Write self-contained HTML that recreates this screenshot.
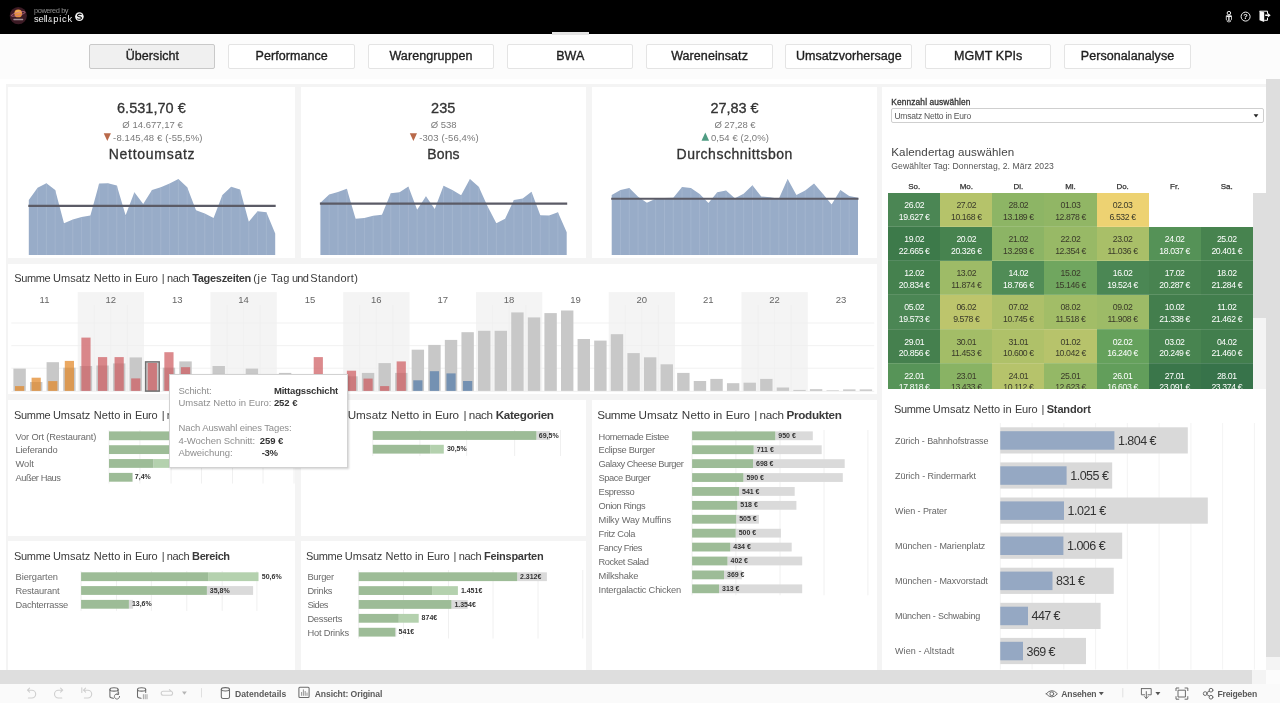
<!DOCTYPE html>
<html lang="de"><head><meta charset="utf-8"><title>Übersicht – sell&amp;pick Dashboard</title>
<style>
html,body{margin:0;padding:0}
body{width:1280px;height:703px;overflow:hidden;background:#fff;position:relative;font-family:"Liberation Sans",sans-serif;}
.t{position:absolute;white-space:pre;line-height:1;font-family:"Liberation Sans",sans-serif;}
svg.ov{position:absolute;left:0;top:0;}
.layer{position:absolute;left:0;top:0;width:1280px;height:703px;will-change:transform;}
</style></head><body>
<div style="position:absolute;left:0px;top:0px;width:1280px;height:34px;background:#000;"></div>
<div style="position:absolute;left:0px;top:34px;width:1280px;height:45px;background:#fcfcfc;"></div>
<div style="position:absolute;left:552px;top:32px;width:37px;height:3px;background:#e3e3e3;"></div>
<div style="position:absolute;left:88.9px;top:44px;width:124.5px;height:23.4px;background:#f0f0f0;border:1px solid #c9c9c9;border-radius:2px;"></div>
<div style="position:absolute;left:228.2px;top:44px;width:124.5px;height:23.4px;background:#fff;border:1px solid #e4e4e4;border-radius:2px;"></div>
<div style="position:absolute;left:367.5px;top:44px;width:124.5px;height:23.4px;background:#fff;border:1px solid #e4e4e4;border-radius:2px;"></div>
<div style="position:absolute;left:506.8px;top:44px;width:124.5px;height:23.4px;background:#fff;border:1px solid #e4e4e4;border-radius:2px;"></div>
<div style="position:absolute;left:646.1px;top:44px;width:124.5px;height:23.4px;background:#fff;border:1px solid #e4e4e4;border-radius:2px;"></div>
<div style="position:absolute;left:785.4px;top:44px;width:124.5px;height:23.4px;background:#fff;border:1px solid #e4e4e4;border-radius:2px;"></div>
<div style="position:absolute;left:924.7px;top:44px;width:124.5px;height:23.4px;background:#fff;border:1px solid #e4e4e4;border-radius:2px;"></div>
<div style="position:absolute;left:1064.0px;top:44px;width:124.5px;height:23.4px;background:#fff;border:1px solid #e4e4e4;border-radius:2px;"></div>
<div style="position:absolute;left:6px;top:84px;width:1260px;height:586px;background:#f4f4f4;"></div>
<div style="position:absolute;left:8.4px;top:87px;width:286.6px;height:171px;background:#fff;"></div>
<div style="position:absolute;left:300.5px;top:87px;width:285.5px;height:171px;background:#fff;"></div>
<div style="position:absolute;left:591.5px;top:87px;width:285.5px;height:171px;background:#fff;"></div>
<div style="position:absolute;left:8.4px;top:264px;width:868.6px;height:130px;background:#fff;"></div>
<div style="position:absolute;left:8.4px;top:399.5px;width:286.6px;height:136px;background:#fff;"></div>
<div style="position:absolute;left:300.5px;top:399.5px;width:285.5px;height:136px;background:#fff;"></div>
<div style="position:absolute;left:591.5px;top:399.5px;width:285.5px;height:270.5px;background:#fff;"></div>
<div style="position:absolute;left:8.4px;top:540.5px;width:286.6px;height:129.5px;background:#fff;"></div>
<div style="position:absolute;left:300.5px;top:540.5px;width:285.5px;height:129.5px;background:#fff;"></div>
<div style="position:absolute;left:882px;top:87px;width:384px;height:583px;background:#fff;"></div>
<div style="position:absolute;left:1266px;top:79px;width:14px;height:577.5px;background:#dedede;"></div>
<div style="position:absolute;left:1266px;top:656.5px;width:14px;height:13.5px;background:#f4f4f4;"></div>
<div style="position:absolute;left:0px;top:670px;width:1252px;height:14px;background:#dedede;"></div>
<div style="position:absolute;left:1252px;top:670px;width:14px;height:14px;background:#f4f4f4;"></div>
<div style="position:absolute;left:1266px;top:670px;width:14px;height:14px;background:#fcfcfc;"></div>
<div style="position:absolute;left:0px;top:684px;width:1280px;height:19px;background:#fafafa;"></div>
<div style="position:absolute;left:891px;top:108.2px;width:370.6px;height:12.6px;background:#fff;border:1px solid #cfcfcf;border-radius:2px;"></div>
<div style="position:absolute;left:1252.9px;top:192.9px;width:13.1px;height:125px;background:#dedede;"></div>
<div style="position:absolute;left:1252.9px;top:317.9px;width:13.1px;height:70.8px;background:#f4f4f4;"></div>
<svg class="ov" width="1280" height="703" viewBox="0 0 1280 703">
<path d="M28.80,254.90 L28.80,199.90 L37.60,187.67 L46.40,183.14 L55.20,189.94 L64.00,223.24 L72.80,219.61 L81.60,216.90 L90.40,215.54 L99.20,183.59 L108.00,183.14 L116.80,185.41 L125.60,215.31 L134.40,192.20 L143.20,203.98 L152.00,189.94 L160.80,187.22 L169.60,183.59 L178.40,179.06 L187.20,187.22 L196.00,210.33 L204.80,213.50 L213.60,218.03 L222.40,194.92 L231.20,186.76 L240.00,189.48 L248.80,221.65 L257.60,211.23 L266.40,212.14 L275.20,233.43 L275.20,254.90 Z" fill="#98acc8"/>
<line x1="37.60" y1="188.17" x2="37.60" y2="254.90" stroke="#a9bad2" stroke-width="0.6" />
<line x1="46.40" y1="183.64" x2="46.40" y2="254.90" stroke="#a9bad2" stroke-width="0.6" />
<line x1="55.20" y1="190.44" x2="55.20" y2="254.90" stroke="#a9bad2" stroke-width="0.6" />
<line x1="64.00" y1="223.74" x2="64.00" y2="254.90" stroke="#a9bad2" stroke-width="0.6" />
<line x1="72.80" y1="220.11" x2="72.80" y2="254.90" stroke="#a9bad2" stroke-width="0.6" />
<line x1="81.60" y1="217.40" x2="81.60" y2="254.90" stroke="#a9bad2" stroke-width="0.6" />
<line x1="90.40" y1="216.04" x2="90.40" y2="254.90" stroke="#a9bad2" stroke-width="0.6" />
<line x1="99.20" y1="184.09" x2="99.20" y2="254.90" stroke="#a9bad2" stroke-width="0.6" />
<line x1="108.00" y1="183.64" x2="108.00" y2="254.90" stroke="#a9bad2" stroke-width="0.6" />
<line x1="116.80" y1="185.91" x2="116.80" y2="254.90" stroke="#a9bad2" stroke-width="0.6" />
<line x1="125.60" y1="215.81" x2="125.60" y2="254.90" stroke="#a9bad2" stroke-width="0.6" />
<line x1="134.40" y1="192.70" x2="134.40" y2="254.90" stroke="#a9bad2" stroke-width="0.6" />
<line x1="143.20" y1="204.48" x2="143.20" y2="254.90" stroke="#a9bad2" stroke-width="0.6" />
<line x1="152.00" y1="190.44" x2="152.00" y2="254.90" stroke="#a9bad2" stroke-width="0.6" />
<line x1="160.80" y1="187.72" x2="160.80" y2="254.90" stroke="#a9bad2" stroke-width="0.6" />
<line x1="169.60" y1="184.09" x2="169.60" y2="254.90" stroke="#a9bad2" stroke-width="0.6" />
<line x1="178.40" y1="179.56" x2="178.40" y2="254.90" stroke="#a9bad2" stroke-width="0.6" />
<line x1="187.20" y1="187.72" x2="187.20" y2="254.90" stroke="#a9bad2" stroke-width="0.6" />
<line x1="196.00" y1="210.83" x2="196.00" y2="254.90" stroke="#a9bad2" stroke-width="0.6" />
<line x1="204.80" y1="214.00" x2="204.80" y2="254.90" stroke="#a9bad2" stroke-width="0.6" />
<line x1="213.60" y1="218.53" x2="213.60" y2="254.90" stroke="#a9bad2" stroke-width="0.6" />
<line x1="222.40" y1="195.42" x2="222.40" y2="254.90" stroke="#a9bad2" stroke-width="0.6" />
<line x1="231.20" y1="187.26" x2="231.20" y2="254.90" stroke="#a9bad2" stroke-width="0.6" />
<line x1="240.00" y1="189.98" x2="240.00" y2="254.90" stroke="#a9bad2" stroke-width="0.6" />
<line x1="248.80" y1="222.15" x2="248.80" y2="254.90" stroke="#a9bad2" stroke-width="0.6" />
<line x1="257.60" y1="211.73" x2="257.60" y2="254.90" stroke="#a9bad2" stroke-width="0.6" />
<line x1="266.40" y1="212.64" x2="266.40" y2="254.90" stroke="#a9bad2" stroke-width="0.6" />
<line x1="28.30" y1="205.80" x2="275.70" y2="205.80" stroke="#5b5b66" stroke-width="2.2" />
<path d="M320.40,254.90 L320.40,202.85 L329.20,194.47 L337.99,191.98 L346.79,188.80 L355.59,218.71 L364.38,218.03 L373.18,215.76 L381.98,214.86 L390.77,193.33 L399.57,192.20 L408.36,186.54 L417.16,209.65 L425.96,196.28 L434.75,208.97 L443.55,185.86 L452.35,189.94 L461.14,195.37 L469.94,179.06 L478.74,186.76 L487.53,206.25 L496.33,223.24 L505.12,218.71 L513.92,199.90 L522.72,198.55 L531.51,191.75 L540.31,215.31 L549.11,215.54 L557.90,212.14 L566.70,232.30 L566.70,254.90 Z" fill="#98acc8"/>
<line x1="329.20" y1="194.97" x2="329.20" y2="254.90" stroke="#a9bad2" stroke-width="0.6" />
<line x1="337.99" y1="192.48" x2="337.99" y2="254.90" stroke="#a9bad2" stroke-width="0.6" />
<line x1="346.79" y1="189.30" x2="346.79" y2="254.90" stroke="#a9bad2" stroke-width="0.6" />
<line x1="355.59" y1="219.21" x2="355.59" y2="254.90" stroke="#a9bad2" stroke-width="0.6" />
<line x1="364.38" y1="218.53" x2="364.38" y2="254.90" stroke="#a9bad2" stroke-width="0.6" />
<line x1="373.18" y1="216.26" x2="373.18" y2="254.90" stroke="#a9bad2" stroke-width="0.6" />
<line x1="381.98" y1="215.36" x2="381.98" y2="254.90" stroke="#a9bad2" stroke-width="0.6" />
<line x1="390.77" y1="193.83" x2="390.77" y2="254.90" stroke="#a9bad2" stroke-width="0.6" />
<line x1="399.57" y1="192.70" x2="399.57" y2="254.90" stroke="#a9bad2" stroke-width="0.6" />
<line x1="408.36" y1="187.04" x2="408.36" y2="254.90" stroke="#a9bad2" stroke-width="0.6" />
<line x1="417.16" y1="210.15" x2="417.16" y2="254.90" stroke="#a9bad2" stroke-width="0.6" />
<line x1="425.96" y1="196.78" x2="425.96" y2="254.90" stroke="#a9bad2" stroke-width="0.6" />
<line x1="434.75" y1="209.47" x2="434.75" y2="254.90" stroke="#a9bad2" stroke-width="0.6" />
<line x1="443.55" y1="186.36" x2="443.55" y2="254.90" stroke="#a9bad2" stroke-width="0.6" />
<line x1="452.35" y1="190.44" x2="452.35" y2="254.90" stroke="#a9bad2" stroke-width="0.6" />
<line x1="461.14" y1="195.87" x2="461.14" y2="254.90" stroke="#a9bad2" stroke-width="0.6" />
<line x1="469.94" y1="179.56" x2="469.94" y2="254.90" stroke="#a9bad2" stroke-width="0.6" />
<line x1="478.74" y1="187.26" x2="478.74" y2="254.90" stroke="#a9bad2" stroke-width="0.6" />
<line x1="487.53" y1="206.75" x2="487.53" y2="254.90" stroke="#a9bad2" stroke-width="0.6" />
<line x1="496.33" y1="223.74" x2="496.33" y2="254.90" stroke="#a9bad2" stroke-width="0.6" />
<line x1="505.12" y1="219.21" x2="505.12" y2="254.90" stroke="#a9bad2" stroke-width="0.6" />
<line x1="513.92" y1="200.40" x2="513.92" y2="254.90" stroke="#a9bad2" stroke-width="0.6" />
<line x1="522.72" y1="199.05" x2="522.72" y2="254.90" stroke="#a9bad2" stroke-width="0.6" />
<line x1="531.51" y1="192.25" x2="531.51" y2="254.90" stroke="#a9bad2" stroke-width="0.6" />
<line x1="540.31" y1="215.81" x2="540.31" y2="254.90" stroke="#a9bad2" stroke-width="0.6" />
<line x1="549.11" y1="216.04" x2="549.11" y2="254.90" stroke="#a9bad2" stroke-width="0.6" />
<line x1="557.90" y1="212.64" x2="557.90" y2="254.90" stroke="#a9bad2" stroke-width="0.6" />
<line x1="319.90" y1="203.53" x2="567.20" y2="203.53" stroke="#5b5b66" stroke-width="2.2" />
<path d="M611.70,254.90 L611.70,194.92 L620.50,189.94 L629.29,188.12 L638.09,196.73 L646.89,202.85 L655.68,198.77 L664.48,198.09 L673.27,197.64 L682.07,186.99 L690.87,188.12 L699.66,194.01 L708.46,203.08 L717.26,192.20 L726.05,190.39 L734.85,198.32 L743.65,193.79 L752.44,185.18 L761.24,196.51 L770.04,197.19 L778.83,198.77 L787.63,179.06 L796.42,194.92 L805.22,190.39 L814.02,183.59 L822.81,193.79 L831.61,204.44 L840.41,189.94 L849.20,196.05 L858.00,197.64 L858.00,254.90 Z" fill="#98acc8"/>
<line x1="620.50" y1="190.44" x2="620.50" y2="254.90" stroke="#a9bad2" stroke-width="0.6" />
<line x1="629.29" y1="188.62" x2="629.29" y2="254.90" stroke="#a9bad2" stroke-width="0.6" />
<line x1="638.09" y1="197.23" x2="638.09" y2="254.90" stroke="#a9bad2" stroke-width="0.6" />
<line x1="646.89" y1="203.35" x2="646.89" y2="254.90" stroke="#a9bad2" stroke-width="0.6" />
<line x1="655.68" y1="199.27" x2="655.68" y2="254.90" stroke="#a9bad2" stroke-width="0.6" />
<line x1="664.48" y1="198.59" x2="664.48" y2="254.90" stroke="#a9bad2" stroke-width="0.6" />
<line x1="673.27" y1="198.14" x2="673.27" y2="254.90" stroke="#a9bad2" stroke-width="0.6" />
<line x1="682.07" y1="187.49" x2="682.07" y2="254.90" stroke="#a9bad2" stroke-width="0.6" />
<line x1="690.87" y1="188.62" x2="690.87" y2="254.90" stroke="#a9bad2" stroke-width="0.6" />
<line x1="699.66" y1="194.51" x2="699.66" y2="254.90" stroke="#a9bad2" stroke-width="0.6" />
<line x1="708.46" y1="203.58" x2="708.46" y2="254.90" stroke="#a9bad2" stroke-width="0.6" />
<line x1="717.26" y1="192.70" x2="717.26" y2="254.90" stroke="#a9bad2" stroke-width="0.6" />
<line x1="726.05" y1="190.89" x2="726.05" y2="254.90" stroke="#a9bad2" stroke-width="0.6" />
<line x1="734.85" y1="198.82" x2="734.85" y2="254.90" stroke="#a9bad2" stroke-width="0.6" />
<line x1="743.65" y1="194.29" x2="743.65" y2="254.90" stroke="#a9bad2" stroke-width="0.6" />
<line x1="752.44" y1="185.68" x2="752.44" y2="254.90" stroke="#a9bad2" stroke-width="0.6" />
<line x1="761.24" y1="197.01" x2="761.24" y2="254.90" stroke="#a9bad2" stroke-width="0.6" />
<line x1="770.04" y1="197.69" x2="770.04" y2="254.90" stroke="#a9bad2" stroke-width="0.6" />
<line x1="778.83" y1="199.27" x2="778.83" y2="254.90" stroke="#a9bad2" stroke-width="0.6" />
<line x1="787.63" y1="179.56" x2="787.63" y2="254.90" stroke="#a9bad2" stroke-width="0.6" />
<line x1="796.42" y1="195.42" x2="796.42" y2="254.90" stroke="#a9bad2" stroke-width="0.6" />
<line x1="805.22" y1="190.89" x2="805.22" y2="254.90" stroke="#a9bad2" stroke-width="0.6" />
<line x1="814.02" y1="184.09" x2="814.02" y2="254.90" stroke="#a9bad2" stroke-width="0.6" />
<line x1="822.81" y1="194.29" x2="822.81" y2="254.90" stroke="#a9bad2" stroke-width="0.6" />
<line x1="831.61" y1="204.94" x2="831.61" y2="254.90" stroke="#a9bad2" stroke-width="0.6" />
<line x1="840.41" y1="190.44" x2="840.41" y2="254.90" stroke="#a9bad2" stroke-width="0.6" />
<line x1="849.20" y1="196.55" x2="849.20" y2="254.90" stroke="#a9bad2" stroke-width="0.6" />
<line x1="611.20" y1="198.77" x2="858.50" y2="198.77" stroke="#5b5b66" stroke-width="2.2" />
<path d="M103.72,133.2 l7.2,0 l-3.6,7.8 Z" fill="#b9694a"/>
<path d="M409.80,133.2 l7.2,0 l-3.6,7.8 Z" fill="#b9694a"/>
<path d="M701.50,140.8 l7.6,0 l-3.8,-8.4 Z" fill="#4f9c83"/>
<rect x="77.68" y="292.10" width="66.38" height="99.10" fill="#f4f4f4" />
<line x1="94.27" y1="305.00" x2="94.27" y2="390.90" stroke="#efefef" stroke-width="0.8" />
<line x1="110.86" y1="305.00" x2="110.86" y2="390.90" stroke="#efefef" stroke-width="0.8" />
<line x1="127.46" y1="305.00" x2="127.46" y2="390.90" stroke="#efefef" stroke-width="0.8" />
<rect x="210.43" y="292.10" width="66.38" height="99.10" fill="#f4f4f4" />
<line x1="227.02" y1="305.00" x2="227.02" y2="390.90" stroke="#efefef" stroke-width="0.8" />
<line x1="243.62" y1="305.00" x2="243.62" y2="390.90" stroke="#efefef" stroke-width="0.8" />
<line x1="260.21" y1="305.00" x2="260.21" y2="390.90" stroke="#efefef" stroke-width="0.8" />
<rect x="343.18" y="292.10" width="66.38" height="99.10" fill="#f4f4f4" />
<line x1="359.77" y1="305.00" x2="359.77" y2="390.90" stroke="#efefef" stroke-width="0.8" />
<line x1="376.37" y1="305.00" x2="376.37" y2="390.90" stroke="#efefef" stroke-width="0.8" />
<line x1="392.96" y1="305.00" x2="392.96" y2="390.90" stroke="#efefef" stroke-width="0.8" />
<rect x="475.93" y="292.10" width="66.38" height="99.10" fill="#f4f4f4" />
<line x1="492.53" y1="305.00" x2="492.53" y2="390.90" stroke="#efefef" stroke-width="0.8" />
<line x1="509.12" y1="305.00" x2="509.12" y2="390.90" stroke="#efefef" stroke-width="0.8" />
<line x1="525.71" y1="305.00" x2="525.71" y2="390.90" stroke="#efefef" stroke-width="0.8" />
<rect x="608.68" y="292.10" width="66.38" height="99.10" fill="#f4f4f4" />
<line x1="625.28" y1="305.00" x2="625.28" y2="390.90" stroke="#efefef" stroke-width="0.8" />
<line x1="641.87" y1="305.00" x2="641.87" y2="390.90" stroke="#efefef" stroke-width="0.8" />
<line x1="658.47" y1="305.00" x2="658.47" y2="390.90" stroke="#efefef" stroke-width="0.8" />
<rect x="741.44" y="292.10" width="66.38" height="99.10" fill="#f4f4f4" />
<line x1="758.03" y1="305.00" x2="758.03" y2="390.90" stroke="#efefef" stroke-width="0.8" />
<line x1="774.62" y1="305.00" x2="774.62" y2="390.90" stroke="#efefef" stroke-width="0.8" />
<line x1="791.22" y1="305.00" x2="791.22" y2="390.90" stroke="#efefef" stroke-width="0.8" />
<line x1="11.30" y1="323.00" x2="874.20" y2="323.00" stroke="#efefef" stroke-width="0.9" />
<line x1="11.30" y1="345.70" x2="874.20" y2="345.70" stroke="#efefef" stroke-width="0.9" />
<line x1="11.30" y1="368.20" x2="874.20" y2="368.20" stroke="#efefef" stroke-width="0.9" />
<line x1="11.30" y1="391.30" x2="874.20" y2="391.30" stroke="#f0f0f0" stroke-width="1" />
<rect x="13.40" y="368.60" width="12.40" height="22.30" fill="#c8c8c8" />
<rect x="29.99" y="382.00" width="12.40" height="8.90" fill="#c8c8c8" />
<rect x="46.58" y="362.20" width="12.40" height="28.70" fill="#c8c8c8" />
<rect x="63.18" y="367.70" width="12.40" height="23.20" fill="#c8c8c8" />
<rect x="79.77" y="366.00" width="12.40" height="24.90" fill="#c8c8c8" />
<rect x="96.37" y="365.50" width="12.40" height="25.40" fill="#c8c8c8" />
<rect x="112.96" y="363.40" width="12.40" height="27.50" fill="#c8c8c8" />
<rect x="129.56" y="357.40" width="12.40" height="33.50" fill="#c8c8c8" />
<rect x="146.15" y="362.60" width="12.40" height="28.30" fill="#c8c8c8" />
<rect x="162.74" y="367.70" width="12.40" height="23.20" fill="#c8c8c8" />
<rect x="179.34" y="361.40" width="12.40" height="29.50" fill="#c8c8c8" />
<rect x="195.93" y="378.90" width="12.40" height="12.00" fill="#c8c8c8" />
<rect x="212.53" y="366.00" width="12.40" height="24.90" fill="#c8c8c8" />
<rect x="229.12" y="384.90" width="12.40" height="6.00" fill="#c8c8c8" />
<rect x="245.71" y="368.60" width="12.40" height="22.30" fill="#c8c8c8" />
<rect x="262.31" y="385.90" width="12.40" height="5.00" fill="#c8c8c8" />
<rect x="278.90" y="372.90" width="12.40" height="18.00" fill="#c8c8c8" />
<rect x="295.50" y="386.90" width="12.40" height="4.00" fill="#c8c8c8" />
<rect x="312.09" y="380.90" width="12.40" height="10.00" fill="#c8c8c8" />
<rect x="328.68" y="382.90" width="12.40" height="8.00" fill="#c8c8c8" />
<rect x="345.28" y="376.30" width="12.40" height="14.60" fill="#c8c8c8" />
<rect x="361.87" y="372.90" width="12.40" height="18.00" fill="#c8c8c8" />
<rect x="378.47" y="363.10" width="12.40" height="27.80" fill="#c8c8c8" />
<rect x="395.06" y="372.90" width="12.40" height="18.00" fill="#c8c8c8" />
<rect x="411.65" y="349.70" width="12.40" height="41.20" fill="#c8c8c8" />
<rect x="428.25" y="344.90" width="12.40" height="46.00" fill="#c8c8c8" />
<rect x="444.84" y="339.90" width="12.40" height="51.00" fill="#c8c8c8" />
<rect x="461.44" y="332.20" width="12.40" height="58.70" fill="#c8c8c8" />
<rect x="478.03" y="330.80" width="12.40" height="60.10" fill="#c8c8c8" />
<rect x="494.62" y="330.80" width="12.40" height="60.10" fill="#c8c8c8" />
<rect x="511.22" y="312.40" width="12.40" height="78.50" fill="#c8c8c8" />
<rect x="527.81" y="317.40" width="12.40" height="73.50" fill="#c8c8c8" />
<rect x="544.40" y="313.10" width="12.40" height="77.80" fill="#c8c8c8" />
<rect x="561.00" y="310.50" width="12.40" height="80.40" fill="#c8c8c8" />
<rect x="577.59" y="339.00" width="12.40" height="51.90" fill="#c8c8c8" />
<rect x="594.19" y="340.60" width="12.40" height="50.30" fill="#c8c8c8" />
<rect x="610.78" y="334.20" width="12.40" height="56.70" fill="#c8c8c8" />
<rect x="627.38" y="353.10" width="12.40" height="37.80" fill="#c8c8c8" />
<rect x="643.97" y="357.30" width="12.40" height="33.60" fill="#c8c8c8" />
<rect x="660.56" y="364.30" width="12.40" height="26.60" fill="#c8c8c8" />
<rect x="677.16" y="372.90" width="12.40" height="18.00" fill="#c8c8c8" />
<rect x="693.75" y="381.00" width="12.40" height="9.90" fill="#c8c8c8" />
<rect x="710.34" y="378.90" width="12.40" height="12.00" fill="#c8c8c8" />
<rect x="726.94" y="383.20" width="12.40" height="7.70" fill="#c8c8c8" />
<rect x="743.53" y="382.70" width="12.40" height="8.20" fill="#c8c8c8" />
<rect x="760.13" y="378.90" width="12.40" height="12.00" fill="#c8c8c8" />
<rect x="776.72" y="387.50" width="12.40" height="3.40" fill="#c8c8c8" />
<rect x="793.31" y="389.90" width="12.40" height="1.00" fill="#c8c8c8" />
<rect x="809.91" y="389.20" width="12.40" height="1.70" fill="#c8c8c8" />
<rect x="826.50" y="390.30" width="12.40" height="0.60" fill="#c8c8c8" />
<rect x="843.10" y="389.40" width="12.40" height="1.50" fill="#c8c8c8" />
<rect x="859.69" y="389.40" width="12.40" height="1.50" fill="#c8c8c8" />
<rect x="15.00" y="386.10" width="9.20" height="4.80" fill="rgba(226,135,38,0.72)" />
<rect x="31.59" y="377.70" width="9.20" height="13.20" fill="rgba(226,135,38,0.72)" />
<rect x="48.18" y="381.10" width="9.20" height="9.80" fill="rgba(226,135,38,0.72)" />
<rect x="64.78" y="360.90" width="9.20" height="30.00" fill="rgba(226,135,38,0.72)" />
<rect x="81.37" y="337.60" width="9.20" height="53.30" fill="rgba(205,88,92,0.70)" />
<rect x="97.97" y="357.10" width="9.20" height="33.80" fill="rgba(205,88,92,0.70)" />
<rect x="114.56" y="357.10" width="9.20" height="33.80" fill="rgba(205,88,92,0.70)" />
<rect x="131.16" y="378.40" width="9.20" height="12.50" fill="rgba(205,88,92,0.70)" />
<rect x="147.75" y="362.90" width="9.20" height="28.00" fill="rgba(205,88,92,0.70)" />
<rect x="164.34" y="352.20" width="9.20" height="38.70" fill="rgba(205,88,92,0.70)" />
<rect x="180.94" y="367.20" width="9.20" height="23.70" fill="rgba(205,88,92,0.70)" />
<rect x="197.53" y="384.90" width="9.20" height="6.00" fill="rgba(205,88,92,0.70)" />
<rect x="313.69" y="357.10" width="9.20" height="33.80" fill="rgba(205,88,92,0.70)" />
<rect x="346.88" y="370.70" width="9.20" height="20.20" fill="rgba(205,88,92,0.70)" />
<rect x="363.47" y="378.60" width="9.20" height="12.30" fill="rgba(205,88,92,0.70)" />
<rect x="380.06" y="386.10" width="9.20" height="4.80" fill="rgba(205,88,92,0.70)" />
<rect x="396.66" y="361.40" width="9.20" height="29.50" fill="rgba(205,88,92,0.70)" />
<rect x="413.25" y="380.30" width="9.20" height="10.60" fill="rgba(80,121,168,0.70)" />
<rect x="429.85" y="371.20" width="9.20" height="19.70" fill="rgba(80,121,168,0.70)" />
<rect x="446.44" y="373.40" width="9.20" height="17.50" fill="rgba(80,121,168,0.70)" />
<rect x="463.04" y="381.00" width="9.20" height="9.90" fill="rgba(80,121,168,0.70)" />
<rect x="145.60" y="361.90" width="13.6" height="29.2" fill="none" stroke="#6f6f6f" stroke-width="1.5"/>
<line x1="109.00" y1="430.00" x2="109.00" y2="483.60" stroke="#eeeeee" stroke-width="0.9" />
<line x1="139.90" y1="430.00" x2="139.90" y2="483.60" stroke="#eeeeee" stroke-width="0.9" />
<line x1="171.10" y1="430.00" x2="171.10" y2="483.60" stroke="#eeeeee" stroke-width="0.9" />
<line x1="201.50" y1="430.00" x2="201.50" y2="483.60" stroke="#eeeeee" stroke-width="0.9" />
<line x1="232.50" y1="430.00" x2="232.50" y2="483.60" stroke="#eeeeee" stroke-width="0.9" />
<line x1="263.00" y1="430.00" x2="263.00" y2="483.60" stroke="#eeeeee" stroke-width="0.9" />
<line x1="294.00" y1="430.00" x2="294.00" y2="483.60" stroke="#eeeeee" stroke-width="0.9" />
<rect x="262.00" y="431.40" width="13.00" height="8.80" fill="#dadada" />
<rect x="109.00" y="431.40" width="153.00" height="8.80" fill="#9dbc97" />
<rect x="208.00" y="445.23" width="6.00" height="8.80" fill="#dadada" />
<rect x="109.00" y="445.23" width="99.00" height="8.80" fill="#9dbc97" />
<rect x="153.50" y="459.06" width="30.50" height="8.80" fill="#b4d1ae" />
<rect x="109.00" y="459.06" width="44.50" height="8.80" fill="#9dbc97" />
<rect x="132.40" y="472.89" width="0.60" height="8.80" fill="#dadada" />
<rect x="109.00" y="472.89" width="23.40" height="8.80" fill="#9dbc97" />
<line x1="372.80" y1="430.00" x2="372.80" y2="456.00" stroke="#eeeeee" stroke-width="0.9" />
<line x1="419.90" y1="430.00" x2="419.90" y2="456.00" stroke="#eeeeee" stroke-width="0.9" />
<line x1="466.60" y1="430.00" x2="466.60" y2="456.00" stroke="#eeeeee" stroke-width="0.9" />
<line x1="514.60" y1="430.00" x2="514.60" y2="456.00" stroke="#eeeeee" stroke-width="0.9" />
<line x1="560.50" y1="430.00" x2="560.50" y2="456.00" stroke="#eeeeee" stroke-width="0.9" />
<rect x="536.40" y="431.10" width="13.60" height="8.80" fill="#dadada" />
<rect x="372.80" y="431.10" width="163.60" height="8.80" fill="#9dbc97" />
<rect x="430.20" y="444.80" width="13.60" height="8.80" fill="#b4d1ae" />
<rect x="372.80" y="444.80" width="57.40" height="8.80" fill="#9dbc97" />
<line x1="692.10" y1="430.00" x2="692.10" y2="595.30" stroke="#eeeeee" stroke-width="0.9" />
<line x1="735.90" y1="430.00" x2="735.90" y2="595.30" stroke="#eeeeee" stroke-width="0.9" />
<line x1="780.00" y1="430.00" x2="780.00" y2="595.30" stroke="#eeeeee" stroke-width="0.9" />
<line x1="824.00" y1="430.00" x2="824.00" y2="595.30" stroke="#eeeeee" stroke-width="0.9" />
<line x1="867.90" y1="430.00" x2="867.90" y2="595.30" stroke="#eeeeee" stroke-width="0.9" />
<rect x="775.30" y="431.40" width="37.50" height="8.80" fill="#dadada" />
<rect x="692.10" y="431.40" width="83.20" height="8.80" fill="#9dbc97" />
<rect x="753.70" y="445.31" width="68.00" height="8.80" fill="#dadada" />
<rect x="692.10" y="445.31" width="61.60" height="8.80" fill="#9dbc97" />
<rect x="753.00" y="459.22" width="91.70" height="8.80" fill="#dadada" />
<rect x="692.10" y="459.22" width="60.90" height="8.80" fill="#9dbc97" />
<rect x="743.40" y="473.13" width="99.40" height="8.80" fill="#dadada" />
<rect x="692.10" y="473.13" width="51.30" height="8.80" fill="#9dbc97" />
<rect x="739.00" y="487.04" width="55.70" height="8.80" fill="#dadada" />
<rect x="692.10" y="487.04" width="46.90" height="8.80" fill="#9dbc97" />
<rect x="737.30" y="500.95" width="59.10" height="8.80" fill="#dadada" />
<rect x="692.10" y="500.95" width="45.20" height="8.80" fill="#9dbc97" />
<rect x="736.20" y="514.86" width="22.70" height="8.80" fill="#dadada" />
<rect x="692.10" y="514.86" width="44.10" height="8.80" fill="#9dbc97" />
<rect x="735.70" y="528.77" width="45.20" height="8.80" fill="#dadada" />
<rect x="692.10" y="528.77" width="43.60" height="8.80" fill="#9dbc97" />
<rect x="730.30" y="542.68" width="61.40" height="8.80" fill="#dadada" />
<rect x="692.10" y="542.68" width="38.20" height="8.80" fill="#9dbc97" />
<rect x="727.50" y="556.59" width="74.70" height="8.80" fill="#dadada" />
<rect x="692.10" y="556.59" width="35.40" height="8.80" fill="#9dbc97" />
<rect x="724.00" y="570.50" width="18.00" height="8.80" fill="#dadada" />
<rect x="692.10" y="570.50" width="31.90" height="8.80" fill="#9dbc97" />
<rect x="719.00" y="584.41" width="83.20" height="8.80" fill="#dadada" />
<rect x="692.10" y="584.41" width="26.90" height="8.80" fill="#9dbc97" />
<line x1="81.10" y1="571.00" x2="81.10" y2="610.90" stroke="#eeeeee" stroke-width="0.9" />
<line x1="116.50" y1="571.00" x2="116.50" y2="610.90" stroke="#eeeeee" stroke-width="0.9" />
<line x1="151.40" y1="571.00" x2="151.40" y2="610.90" stroke="#eeeeee" stroke-width="0.9" />
<line x1="186.80" y1="571.00" x2="186.80" y2="610.90" stroke="#eeeeee" stroke-width="0.9" />
<line x1="222.20" y1="571.00" x2="222.20" y2="610.90" stroke="#eeeeee" stroke-width="0.9" />
<line x1="256.90" y1="571.00" x2="256.90" y2="610.90" stroke="#eeeeee" stroke-width="0.9" />
<rect x="208.10" y="572.30" width="50.40" height="8.80" fill="#b4d1ae" />
<rect x="81.10" y="572.30" width="127.00" height="8.80" fill="#9dbc97" />
<rect x="206.90" y="586.10" width="46.20" height="8.80" fill="#dadada" />
<rect x="81.10" y="586.10" width="125.80" height="8.80" fill="#9dbc97" />
<rect x="128.90" y="599.90" width="4.20" height="8.80" fill="#dadada" />
<rect x="81.10" y="599.90" width="47.80" height="8.80" fill="#9dbc97" />
<line x1="358.70" y1="570.00" x2="358.70" y2="638.50" stroke="#eeeeee" stroke-width="0.9" />
<line x1="403.50" y1="570.00" x2="403.50" y2="638.50" stroke="#eeeeee" stroke-width="0.9" />
<line x1="448.50" y1="570.00" x2="448.50" y2="638.50" stroke="#eeeeee" stroke-width="0.9" />
<line x1="493.00" y1="570.00" x2="493.00" y2="638.50" stroke="#eeeeee" stroke-width="0.9" />
<line x1="538.00" y1="570.00" x2="538.00" y2="638.50" stroke="#eeeeee" stroke-width="0.9" />
<line x1="582.80" y1="570.00" x2="582.80" y2="638.50" stroke="#eeeeee" stroke-width="0.9" />
<rect x="517.20" y="572.30" width="29.70" height="8.80" fill="#dadada" />
<rect x="358.70" y="572.30" width="158.50" height="8.80" fill="#9dbc97" />
<rect x="432.10" y="586.17" width="25.80" height="8.80" fill="#b4d1ae" />
<rect x="358.70" y="586.17" width="73.40" height="8.80" fill="#9dbc97" />
<rect x="451.50" y="600.04" width="16.20" height="8.80" fill="#dadada" />
<rect x="358.70" y="600.04" width="92.80" height="8.80" fill="#9dbc97" />
<rect x="398.80" y="613.91" width="19.90" height="8.80" fill="#b4d1ae" />
<rect x="358.70" y="613.91" width="40.10" height="8.80" fill="#9dbc97" />
<rect x="395.30" y="627.78" width="1.00" height="8.80" fill="#dadada" />
<rect x="358.70" y="627.78" width="36.60" height="8.80" fill="#9dbc97" />
<path d="M1253.6,114.2 l4.8,0 l-2.4,3.2 Z" fill="#222"/>
<line x1="1000.30" y1="423.00" x2="1000.30" y2="669.50" stroke="#f2f2f2" stroke-width="0.9" />
<line x1="1032.06" y1="423.00" x2="1032.06" y2="669.50" stroke="#f2f2f2" stroke-width="0.9" />
<line x1="1063.82" y1="423.00" x2="1063.82" y2="669.50" stroke="#f2f2f2" stroke-width="0.9" />
<line x1="1095.58" y1="423.00" x2="1095.58" y2="669.50" stroke="#f2f2f2" stroke-width="0.9" />
<line x1="1127.34" y1="423.00" x2="1127.34" y2="669.50" stroke="#f2f2f2" stroke-width="0.9" />
<line x1="1159.10" y1="423.00" x2="1159.10" y2="669.50" stroke="#f2f2f2" stroke-width="0.9" />
<line x1="1190.86" y1="423.00" x2="1190.86" y2="669.50" stroke="#f2f2f2" stroke-width="0.9" />
<line x1="1222.62" y1="423.00" x2="1222.62" y2="669.50" stroke="#f2f2f2" stroke-width="0.9" />
<line x1="1254.38" y1="423.00" x2="1254.38" y2="669.50" stroke="#f2f2f2" stroke-width="0.9" />
<rect x="1000.30" y="427.30" width="187.50" height="26.20" fill="#d9d9d9" />
<rect x="1000.30" y="431.20" width="114.10" height="18.50" fill="#95a8c3" />
<rect x="1000.30" y="462.40" width="111.90" height="26.20" fill="#d9d9d9" />
<rect x="1000.30" y="466.30" width="66.30" height="18.50" fill="#95a8c3" />
<rect x="1000.30" y="497.50" width="207.50" height="26.20" fill="#d9d9d9" />
<rect x="1000.30" y="501.40" width="63.70" height="18.50" fill="#95a8c3" />
<rect x="1000.30" y="532.60" width="121.90" height="26.20" fill="#d9d9d9" />
<rect x="1000.30" y="536.50" width="63.10" height="18.50" fill="#95a8c3" />
<rect x="1000.30" y="567.70" width="113.45" height="26.20" fill="#d9d9d9" />
<rect x="1000.30" y="571.60" width="52.20" height="18.50" fill="#95a8c3" />
<rect x="1000.30" y="602.80" width="100.30" height="26.20" fill="#d9d9d9" />
<rect x="1000.30" y="606.70" width="27.70" height="18.50" fill="#95a8c3" />
<rect x="1000.30" y="637.90" width="85.70" height="26.20" fill="#d9d9d9" />
<rect x="1000.30" y="641.80" width="22.70" height="18.50" fill="#95a8c3" />
<g>
<circle cx="18.3" cy="15.7" r="8.6" fill="#3b1a24"/>
<circle cx="18.2" cy="13.4" r="3.9" fill="#e8923a"/>
<path d="M14.6,12.4 a3.9,3.9 0 0 1 7.2,0 q-3.6,1.6 -7.2,0Z" fill="#f3b055"/>
<ellipse cx="18.2" cy="13.9" rx="7.2" ry="1.5" fill="none" stroke="#c9758f" stroke-width="0.7" transform="rotate(-14 18.2 13.9)"/>
<rect x="13.4" y="18.7" width="9.8" height="1.5" rx="0.4" fill="#e9dfe2" opacity="0.6"/>
</g>
<g>
<circle cx="79.4" cy="16.6" r="4.3" fill="#f4f4f4"/>
<path d="M81.6,14.6 q-2.2,-0.9 -3.6,0 q-1.2,1.1 0.6,1.9 l2,0.5 q1.6,0.9 0.1,1.9 q-1.8,0.7 -3.6,-0.3" fill="none" stroke="#000" stroke-width="1.05"/>
</g>
<g fill="none" stroke="#f2f2f2" stroke-width="1.0">
<circle cx="1228.9" cy="13.1" r="1.75"/>
<path d="M1226.3,15.8 l5.2,0 l0,3.4 q0,1 -1,1.4 l0,0.9 q-1.6,0.9 -3.2,0 l0,-0.9 q-1,-0.4 -1,-1.4 Z" stroke-width="0.8"/>
<path d="M1226.6,16.3 l4.6,0 M1228.9,16.3 l0,4.6" stroke-width="1.3"/>
<circle cx="1245.6" cy="16.6" r="4.5"/>
</g>
<g>
<path d="M1259.5,10.9 l4.7,1.4 l0,9.7 l-4.7,-1.7 Z" fill="#f7f7f7"/>
<path d="M1259.5,11.2 l8,0 l0,2.6 M1264.2,20.3 l3.3,0 l0,-2.6" fill="none" stroke="#f7f7f7" stroke-width="1"/>
<path d="M1265.2,14.6 l2.6,0 l0,-1.6 l2.9,2.3 l-2.9,2.3 l0,-1.6 l-2.6,0 Z" fill="#f7f7f7"/>
</g>
<g fill="none" stroke-linecap="round" stroke-linejoin="round">
<path d="M27.6,690.2 l4.2,0 a3.9,3.9 0 0 1 0,7.8 l-3.4,0 M29.6,688.2 l-2.1,2 l2.1,2" stroke="#cfcfcf" stroke-width="1.1"/>
<path d="M62.6,690.2 l-4.2,0 a3.9,3.9 0 0 0 0,7.8 l3.4,0 M60.6,688.2 l2.1,2 l-2.1,2" stroke="#cfcfcf" stroke-width="1.1"/>
<path d="M83.6,690.2 l4.2,0 a3.9,3.9 0 0 1 0,7.8 l-3.4,0 M85.6,688.2 l-2.1,2 l2.1,2 M81.8,687.8 l0,4.6" stroke="#cfcfcf" stroke-width="1.1"/>
<g stroke="#6b6b6b" stroke-width="1.05">
<ellipse cx="114" cy="689.4" rx="4.1" ry="1.7"/><path d="M109.9,689.4 l0,7.2 q0,1.6 3.6,1.7 M118.1,689.4 l0,3"/>
<path d="M119.6,696.4 a2.6,2.6 0 1 1 -1.3,-2.2 M118.6,692.6 l0,1.8 l-1.8,0" stroke-width="0.95"/>
<ellipse cx="141.6" cy="689.4" rx="4.1" ry="1.7"/><path d="M137.5,689.4 l0,7.2 q0,1.6 3.6,1.7 M145.7,689.4 l0,3"/>
<path d="M143.4,694.6 l0,4.2 M145.2,694.6 l0,4.2 M147,694.6 l0,4.2" stroke="#9a9a9a" stroke-width="0.9"/>
</g>
<path d="M163.2,691.2 l7.4,0 a2,2 0 0 1 0,4 l-7.4,0 a2,2 0 0 1 0,-4 M169.4,689.6 l1.8,1.6" stroke="#cfcfcf" stroke-width="1.1"/>
<path d="M182,691.6 l4.8,0 l-2.4,3.2 Z" fill="#b5b5b5" stroke="none"/>
<path d="M201.5,688.5 l0,8.5" stroke="#e0e0e0" stroke-width="1"/>
<g stroke="#6b6b6b" stroke-width="1.05">
<ellipse cx="225.4" cy="689.3" rx="4.1" ry="1.7"/><path d="M221.3,689.3 l0,7.6 a4.1,1.7 0 0 0 8.2,0 l0,-7.6"/>
<rect x="298.9" y="687.2" width="10.2" height="10.2" rx="1"/>
<path d="M301.6,695.4 l0,-3 M303.4,695.4 l0,-5.6 M305.2,695.4 l0,-4 M307,695.4 l0,-2.4" stroke="#8a8a8a" stroke-width="0.9"/>
</g>
<g stroke="#6b6b6b" stroke-width="1.0">
<path d="M1046.2,693.8 q5.6,-6.4 11.2,0 q-5.6,6.4 -11.2,0 Z"/><circle cx="1051.8" cy="693.8" r="1.9"/>
<path d="M1141.4,688.6 l9.8,0 l0,6.2 l-3.2,0 M1144.6,694.8 l-3.2,0 l0,-6.2"/>
<path d="M1146.3,691.6 l0,6.6 M1144.5,696.6 l1.8,1.8 l1.8,-1.8"/>
<rect x="1178.4" y="690.2" width="7" height="6.8"/>
<path d="M1176,690.6 l0,-2.6 l2.8,0 M1185,688 l2.8,0 l0,2.6 M1187.8,696.6 l0,2.6 l-2.8,0 M1178.8,699.2 l-2.8,0 l0,-2.6"/>
<circle cx="1205.2" cy="693.6" r="1.9"/><circle cx="1211" cy="690.2" r="1.9"/><circle cx="1211" cy="697.2" r="1.9"/>
<path d="M1206.9,692.6 l2.5,-1.5 M1206.9,694.6 l2.5,1.6"/>
</g>
<path d="M1098.8,692 l5,0 l-2.5,3.2 Z" fill="#555" stroke="none"/>
<path d="M1155.4,692 l5,0 l-2.5,3.2 Z" fill="#555" stroke="none"/>
<path d="M1122.8,688.5 l0,8.5" stroke="#e0e0e0" stroke-width="1"/>
</g>
</svg>
<div class="layer">
<span class="t" style="left:125.69px;top:50.05px;font-size:12.5px;color:#1e1e1e;letter-spacing:0.070px;-webkit-text-stroke:0.35px #1e1e1e;">Übersicht</span>
<span class="t" style="left:255.53px;top:50.05px;font-size:12.5px;color:#1e1e1e;letter-spacing:0.070px;-webkit-text-stroke:0.35px #1e1e1e;">Performance</span>
<span class="t" style="left:389.47px;top:50.05px;font-size:12.5px;color:#1e1e1e;letter-spacing:0.070px;-webkit-text-stroke:0.35px #1e1e1e;">Warengruppen</span>
<span class="t" style="left:556.19px;top:50.05px;font-size:12.5px;color:#1e1e1e;letter-spacing:0.070px;-webkit-text-stroke:0.35px #1e1e1e;">BWA</span>
<span class="t" style="left:671.20px;top:50.05px;font-size:12.5px;color:#1e1e1e;letter-spacing:0.070px;-webkit-text-stroke:0.35px #1e1e1e;">Wareneinsatz</span>
<span class="t" style="left:795.89px;top:50.05px;font-size:12.5px;color:#1e1e1e;letter-spacing:0.070px;-webkit-text-stroke:0.35px #1e1e1e;">Umsatzvorhersage</span>
<span class="t" style="left:953.97px;top:50.05px;font-size:12.5px;color:#1e1e1e;letter-spacing:0.070px;-webkit-text-stroke:0.35px #1e1e1e;">MGMT KPIs</span>
<span class="t" style="left:1080.76px;top:50.05px;font-size:12.5px;color:#1e1e1e;letter-spacing:0.070px;-webkit-text-stroke:0.35px #1e1e1e;">Personalanalyse</span>
<span class="t" style="left:117.00px;top:101.05px;font-size:14.5px;color:#333;letter-spacing:0.026px;-webkit-text-stroke:0.3px #333;">6.531,70 €</span>
<span class="t" style="left:122.30px;top:120.05px;font-size:9.5px;color:#7a7a7a;letter-spacing:0.030px;">Ø 14.677,17 €</span>
<span class="t" style="left:113.12px;top:133.05px;font-size:9.5px;color:#7a7a7a;letter-spacing:0.111px;">-8.145,48 € (-55,5%)</span>
<span class="t" style="left:108.75px;top:147.30px;font-size:14px;color:#333;letter-spacing:0.719px;-webkit-text-stroke:0.3px #333;">Nettoumsatz</span>
<span class="t" style="left:431.05px;top:101.05px;font-size:14.5px;color:#333;letter-spacing:0.036px;-webkit-text-stroke:0.3px #333;">235</span>
<span class="t" style="left:430.85px;top:120.05px;font-size:9.5px;color:#7a7a7a;letter-spacing:-0.076px;">Ø 538</span>
<span class="t" style="left:419.20px;top:133.05px;font-size:9.5px;color:#7a7a7a;letter-spacing:0.117px;">-303 (-56,4%)</span>
<span class="t" style="left:427.20px;top:147.30px;font-size:14px;color:#333;letter-spacing:0.172px;-webkit-text-stroke:0.3px #333;">Bons</span>
<span class="t" style="left:710.55px;top:101.05px;font-size:14.5px;color:#333;letter-spacing:-0.068px;-webkit-text-stroke:0.3px #333;">27,83 €</span>
<span class="t" style="left:714.50px;top:120.05px;font-size:9.5px;color:#7a7a7a;letter-spacing:-0.081px;">Ø 27,28 €</span>
<span class="t" style="left:710.90px;top:133.05px;font-size:9.5px;color:#7a7a7a;letter-spacing:0.074px;">0,54 € (2,0%)</span>
<span class="t" style="left:676.50px;top:147.30px;font-size:14px;color:#333;letter-spacing:0.515px;-webkit-text-stroke:0.3px #333;">Durchschnittsbon</span>
<span class="t" style="left:14.20px;top:272.80px;font-size:11px;color:#3a3a3a;letter-spacing:-0.350px;">Summe</span>
<span class="t" style="left:53.00px;top:272.80px;font-size:11px;color:#3a3a3a;letter-spacing:0.020px;">Umsatz</span>
<span class="t" style="left:93.80px;top:272.80px;font-size:11px;color:#3a3a3a;letter-spacing:0.082px;">Netto</span>
<span class="t" style="left:123.30px;top:272.80px;font-size:11px;color:#3a3a3a;letter-spacing:-0.081px;">in</span>
<span class="t" style="left:135.10px;top:272.80px;font-size:11px;color:#3a3a3a;letter-spacing:-0.184px;">Euro</span>
<span class="t" style="left:161.80px;top:272.80px;font-size:11px;color:#3a3a3a;">|</span>
<span class="t" style="left:166.90px;top:272.80px;font-size:11px;color:#3a3a3a;letter-spacing:-0.338px;">nach</span>
<span class="t" style="left:192.20px;top:272.80px;font-size:11px;color:#3a3a3a;font-weight:bold;letter-spacing:-0.305px;">Tageszeiten</span>
<span class="t" style="left:253.20px;top:272.80px;font-size:11px;color:#3a3a3a;letter-spacing:0.750px;">(je</span>
<span class="t" style="left:270.90px;top:272.80px;font-size:11px;color:#3a3a3a;letter-spacing:0.388px;">Tag</span>
<span class="t" style="left:292.00px;top:272.80px;font-size:11px;color:#3a3a3a;letter-spacing:-0.751px;">und</span>
<span class="t" style="left:310.30px;top:272.80px;font-size:11px;color:#3a3a3a;letter-spacing:0.284px;">Standort)</span>
<span class="t" style="left:39.56px;top:295.05px;font-size:9.5px;color:#666;">11</span>
<span class="t" style="left:105.58px;top:295.05px;font-size:9.5px;color:#666;">12</span>
<span class="t" style="left:171.96px;top:295.05px;font-size:9.5px;color:#666;">13</span>
<span class="t" style="left:238.33px;top:295.05px;font-size:9.5px;color:#666;">14</span>
<span class="t" style="left:304.71px;top:295.05px;font-size:9.5px;color:#666;">15</span>
<span class="t" style="left:371.08px;top:295.05px;font-size:9.5px;color:#666;">16</span>
<span class="t" style="left:437.46px;top:295.05px;font-size:9.5px;color:#666;">17</span>
<span class="t" style="left:503.84px;top:295.05px;font-size:9.5px;color:#666;">18</span>
<span class="t" style="left:570.21px;top:295.05px;font-size:9.5px;color:#666;">19</span>
<span class="t" style="left:636.59px;top:295.05px;font-size:9.5px;color:#666;">20</span>
<span class="t" style="left:702.96px;top:295.05px;font-size:9.5px;color:#666;">21</span>
<span class="t" style="left:769.34px;top:295.05px;font-size:9.5px;color:#666;">22</span>
<span class="t" style="left:835.72px;top:295.05px;font-size:9.5px;color:#666;">23</span>
<span class="t" style="left:14.10px;top:409.80px;font-size:11px;color:#3a3a3a;letter-spacing:-0.350px;">Summe</span>
<span class="t" style="left:52.90px;top:409.80px;font-size:11px;color:#3a3a3a;letter-spacing:0.020px;">Umsatz</span>
<span class="t" style="left:93.70px;top:409.80px;font-size:11px;color:#3a3a3a;letter-spacing:0.082px;">Netto</span>
<span class="t" style="left:123.20px;top:409.80px;font-size:11px;color:#3a3a3a;letter-spacing:-0.081px;">in</span>
<span class="t" style="left:135.00px;top:409.80px;font-size:11px;color:#3a3a3a;letter-spacing:-0.184px;">Euro</span>
<span class="t" style="left:161.70px;top:409.80px;font-size:11px;color:#3a3a3a;">|</span>
<span class="t" style="left:166.80px;top:409.80px;font-size:11px;color:#3a3a3a;letter-spacing:-0.338px;">nach</span>
<span class="t" style="left:192.10px;top:409.80px;font-size:11px;color:#3a3a3a;font-weight:bold;letter-spacing:-0.156px;">Vertriebsweg</span>
<span class="t" style="left:15.50px;top:432.65px;font-size:9.3px;color:#6a6a6a;letter-spacing:-0.156px;">Vor Ort (Restaurant)</span>
<span class="t" style="left:264.50px;top:432.30px;font-size:7px;color:#333;font-weight:bold;">55,2%</span>
<span class="t" style="left:15.50px;top:445.65px;font-size:9.3px;color:#6a6a6a;letter-spacing:-0.195px;">Lieferando</span>
<span class="t" style="left:15.50px;top:459.65px;font-size:9.3px;color:#6a6a6a;letter-spacing:-0.033px;">Wolt</span>
<span class="t" style="left:15.50px;top:473.65px;font-size:9.3px;color:#6a6a6a;letter-spacing:-0.462px;">Außer Haus</span>
<span class="t" style="left:134.80px;top:473.30px;font-size:7px;color:#333;font-weight:bold;">7,4%</span>
<span class="t" style="left:306.40px;top:408.95px;font-size:11.7px;color:#3a3a3a;letter-spacing:-0.350px;">Summe</span>
<span class="t" style="left:347.67px;top:408.95px;font-size:11.7px;color:#3a3a3a;letter-spacing:0.021px;">Umsatz</span>
<span class="t" style="left:391.07px;top:408.95px;font-size:11.7px;color:#3a3a3a;letter-spacing:0.087px;">Netto</span>
<span class="t" style="left:422.44px;top:408.95px;font-size:11.7px;color:#3a3a3a;letter-spacing:-0.086px;">in</span>
<span class="t" style="left:434.99px;top:408.95px;font-size:11.7px;color:#3a3a3a;letter-spacing:-0.196px;">Euro</span>
<span class="t" style="left:463.39px;top:408.95px;font-size:11.7px;color:#3a3a3a;">|</span>
<span class="t" style="left:468.82px;top:408.95px;font-size:11.7px;color:#3a3a3a;letter-spacing:-0.350px;">nach</span>
<span class="t" style="left:495.73px;top:408.95px;font-size:11.7px;color:#3a3a3a;font-weight:bold;letter-spacing:-0.311px;">Kategorien</span>
<span class="t" style="left:307.40px;top:431.65px;font-size:9.3px;color:#6a6a6a;letter-spacing:-0.457px;">Speisen</span>
<span class="t" style="left:538.80px;top:432.30px;font-size:7px;color:#333;font-weight:bold;">69,5%</span>
<span class="t" style="left:307.40px;top:445.65px;font-size:9.3px;color:#6a6a6a;letter-spacing:-0.455px;">Getränke</span>
<span class="t" style="left:446.90px;top:445.30px;font-size:7px;color:#333;font-weight:bold;">30,5%</span>
<span class="t" style="left:597.20px;top:408.95px;font-size:11.7px;color:#3a3a3a;letter-spacing:-0.350px;">Summe</span>
<span class="t" style="left:638.47px;top:408.95px;font-size:11.7px;color:#3a3a3a;letter-spacing:0.021px;">Umsatz</span>
<span class="t" style="left:681.87px;top:408.95px;font-size:11.7px;color:#3a3a3a;letter-spacing:0.087px;">Netto</span>
<span class="t" style="left:713.24px;top:408.95px;font-size:11.7px;color:#3a3a3a;letter-spacing:-0.086px;">in</span>
<span class="t" style="left:725.79px;top:408.95px;font-size:11.7px;color:#3a3a3a;letter-spacing:-0.196px;">Euro</span>
<span class="t" style="left:754.19px;top:408.95px;font-size:11.7px;color:#3a3a3a;">|</span>
<span class="t" style="left:759.62px;top:408.95px;font-size:11.7px;color:#3a3a3a;letter-spacing:-0.350px;">nach</span>
<span class="t" style="left:786.53px;top:408.95px;font-size:11.7px;color:#3a3a3a;font-weight:bold;letter-spacing:-0.295px;">Produkten</span>
<span class="t" style="left:598.60px;top:432.65px;font-size:9.3px;color:#6a6a6a;letter-spacing:-0.414px;">Homemade Eistee</span>
<span class="t" style="left:778.30px;top:432.30px;font-size:7px;color:#333;font-weight:bold;">950 €</span>
<span class="t" style="left:598.60px;top:445.65px;font-size:9.3px;color:#6a6a6a;letter-spacing:-0.306px;">Eclipse Burger</span>
<span class="t" style="left:756.70px;top:446.30px;font-size:7px;color:#333;font-weight:bold;">711 €</span>
<span class="t" style="left:598.60px;top:459.65px;font-size:9.3px;color:#6a6a6a;letter-spacing:-0.464px;">Galaxy Cheese Burger</span>
<span class="t" style="left:756.00px;top:460.30px;font-size:7px;color:#333;font-weight:bold;">698 €</span>
<span class="t" style="left:598.60px;top:473.65px;font-size:9.3px;color:#6a6a6a;letter-spacing:-0.439px;">Space Burger</span>
<span class="t" style="left:746.40px;top:474.30px;font-size:7px;color:#333;font-weight:bold;">590 €</span>
<span class="t" style="left:598.60px;top:487.65px;font-size:9.3px;color:#6a6a6a;letter-spacing:-0.396px;">Espresso</span>
<span class="t" style="left:742.00px;top:488.30px;font-size:7px;color:#333;font-weight:bold;">541 €</span>
<span class="t" style="left:598.60px;top:501.65px;font-size:9.3px;color:#6a6a6a;letter-spacing:-0.416px;">Onion Rings</span>
<span class="t" style="left:740.30px;top:501.30px;font-size:7px;color:#333;font-weight:bold;">518 €</span>
<span class="t" style="left:598.60px;top:515.65px;font-size:9.3px;color:#6a6a6a;letter-spacing:-0.118px;">Milky Way Muffins</span>
<span class="t" style="left:739.20px;top:515.30px;font-size:7px;color:#333;font-weight:bold;">505 €</span>
<span class="t" style="left:598.60px;top:529.65px;font-size:9.3px;color:#6a6a6a;letter-spacing:-0.319px;">Fritz Cola</span>
<span class="t" style="left:738.70px;top:529.30px;font-size:7px;color:#333;font-weight:bold;">500 €</span>
<span class="t" style="left:598.60px;top:543.65px;font-size:9.3px;color:#6a6a6a;letter-spacing:-0.471px;">Fancy Fries</span>
<span class="t" style="left:733.30px;top:543.30px;font-size:7px;color:#333;font-weight:bold;">434 €</span>
<span class="t" style="left:598.60px;top:557.65px;font-size:9.3px;color:#6a6a6a;letter-spacing:-0.451px;">Rocket Salad</span>
<span class="t" style="left:730.50px;top:557.30px;font-size:7px;color:#333;font-weight:bold;">402 €</span>
<span class="t" style="left:598.60px;top:571.65px;font-size:9.3px;color:#6a6a6a;letter-spacing:-0.194px;">Milkshake</span>
<span class="t" style="left:727.00px;top:571.30px;font-size:7px;color:#333;font-weight:bold;">369 €</span>
<span class="t" style="left:598.60px;top:585.65px;font-size:9.3px;color:#6a6a6a;letter-spacing:-0.192px;">Intergalactic Chicken</span>
<span class="t" style="left:722.00px;top:585.30px;font-size:7px;color:#333;font-weight:bold;">313 €</span>
<span class="t" style="left:14.10px;top:550.80px;font-size:11px;color:#3a3a3a;letter-spacing:-0.350px;">Summe</span>
<span class="t" style="left:52.90px;top:550.80px;font-size:11px;color:#3a3a3a;letter-spacing:0.020px;">Umsatz</span>
<span class="t" style="left:93.70px;top:550.80px;font-size:11px;color:#3a3a3a;letter-spacing:0.082px;">Netto</span>
<span class="t" style="left:123.20px;top:550.80px;font-size:11px;color:#3a3a3a;letter-spacing:-0.081px;">in</span>
<span class="t" style="left:135.00px;top:550.80px;font-size:11px;color:#3a3a3a;letter-spacing:-0.184px;">Euro</span>
<span class="t" style="left:161.70px;top:550.80px;font-size:11px;color:#3a3a3a;">|</span>
<span class="t" style="left:166.80px;top:550.80px;font-size:11px;color:#3a3a3a;letter-spacing:-0.338px;">nach</span>
<span class="t" style="left:192.10px;top:550.80px;font-size:11px;color:#3a3a3a;font-weight:bold;letter-spacing:-0.393px;">Bereich</span>
<span class="t" style="left:15.50px;top:572.65px;font-size:9.3px;color:#6a6a6a;letter-spacing:-0.051px;">Biergarten</span>
<span class="t" style="left:261.80px;top:573.30px;font-size:7px;color:#333;font-weight:bold;">50,6%</span>
<span class="t" style="left:15.50px;top:586.65px;font-size:9.3px;color:#6a6a6a;letter-spacing:-0.149px;">Restaurant</span>
<span class="t" style="left:209.80px;top:587.30px;font-size:7px;color:#333;font-weight:bold;">35,8%</span>
<span class="t" style="left:15.50px;top:600.65px;font-size:9.3px;color:#6a6a6a;letter-spacing:-0.234px;">Dachterrasse</span>
<span class="t" style="left:131.90px;top:600.30px;font-size:7px;color:#333;font-weight:bold;">13,6%</span>
<span class="t" style="left:306.00px;top:550.80px;font-size:11px;color:#3a3a3a;letter-spacing:-0.350px;">Summe</span>
<span class="t" style="left:344.80px;top:550.80px;font-size:11px;color:#3a3a3a;letter-spacing:0.020px;">Umsatz</span>
<span class="t" style="left:385.60px;top:550.80px;font-size:11px;color:#3a3a3a;letter-spacing:0.082px;">Netto</span>
<span class="t" style="left:415.10px;top:550.80px;font-size:11px;color:#3a3a3a;letter-spacing:-0.081px;">in</span>
<span class="t" style="left:426.90px;top:550.80px;font-size:11px;color:#3a3a3a;letter-spacing:-0.184px;">Euro</span>
<span class="t" style="left:453.60px;top:550.80px;font-size:11px;color:#3a3a3a;">|</span>
<span class="t" style="left:458.70px;top:550.80px;font-size:11px;color:#3a3a3a;letter-spacing:-0.338px;">nach</span>
<span class="t" style="left:484.00px;top:550.80px;font-size:11px;color:#3a3a3a;font-weight:bold;letter-spacing:-0.268px;">Feinsparten</span>
<span class="t" style="left:307.40px;top:572.65px;font-size:9.3px;color:#6a6a6a;letter-spacing:-0.236px;">Burger</span>
<span class="t" style="left:520.00px;top:573.30px;font-size:7px;color:#333;font-weight:bold;">2.312€</span>
<span class="t" style="left:307.40px;top:586.65px;font-size:9.3px;color:#6a6a6a;letter-spacing:-0.259px;">Drinks</span>
<span class="t" style="left:460.90px;top:587.30px;font-size:7px;color:#333;font-weight:bold;">1.451€</span>
<span class="t" style="left:307.40px;top:600.65px;font-size:9.3px;color:#6a6a6a;letter-spacing:-0.533px;">Sides</span>
<span class="t" style="left:454.40px;top:601.30px;font-size:7px;color:#333;font-weight:bold;">1.354€</span>
<span class="t" style="left:307.40px;top:614.65px;font-size:9.3px;color:#6a6a6a;letter-spacing:-0.249px;">Desserts</span>
<span class="t" style="left:421.60px;top:614.30px;font-size:7px;color:#333;font-weight:bold;">874€</span>
<span class="t" style="left:307.40px;top:628.65px;font-size:9.3px;color:#6a6a6a;letter-spacing:-0.191px;">Hot Drinks</span>
<span class="t" style="left:398.60px;top:628.30px;font-size:7px;color:#333;font-weight:bold;">541€</span>
<span class="t" style="left:891.30px;top:98.10px;font-size:8.4px;color:#333;letter-spacing:0.110px;-webkit-text-stroke:0.3px #333;">Kennzahl auswählen</span>
<span class="t" style="left:894.40px;top:112.05px;font-size:8.5px;color:#555;letter-spacing:-0.209px;">Umsatz Netto in Euro</span>
<span class="t" style="left:891.30px;top:145.50px;font-size:11.6px;color:#444;letter-spacing:0.083px;">Kalendertag auswählen</span>
<span class="t" style="left:891.30px;top:162.00px;font-size:8.6px;color:#555;letter-spacing:0.082px;">Gewählter Tag: Donnerstag, 2. März 2023</span>
<span class="t" style="left:908.24px;top:182.80px;font-size:8px;color:#333;-webkit-text-stroke:0.25px #333;">So.</span>
<span class="t" style="left:959.67px;top:182.80px;font-size:8px;color:#333;-webkit-text-stroke:0.25px #333;">Mo.</span>
<span class="t" style="left:1013.54px;top:182.80px;font-size:8px;color:#333;-webkit-text-stroke:0.25px #333;">Di.</span>
<span class="t" style="left:1065.18px;top:182.80px;font-size:8px;color:#333;-webkit-text-stroke:0.25px #333;">Mi.</span>
<span class="t" style="left:1116.38px;top:182.80px;font-size:8px;color:#333;-webkit-text-stroke:0.25px #333;">Do.</span>
<span class="t" style="left:1170.03px;top:182.80px;font-size:8px;color:#333;-webkit-text-stroke:0.25px #333;">Fr.</span>
<span class="t" style="left:1220.78px;top:182.80px;font-size:8px;color:#333;-webkit-text-stroke:0.25px #333;">Sa.</span>
<span class="t" style="left:894.00px;top:403.80px;font-size:11px;color:#3a3a3a;letter-spacing:-0.350px;">Summe</span>
<span class="t" style="left:932.80px;top:403.80px;font-size:11px;color:#3a3a3a;letter-spacing:0.020px;">Umsatz</span>
<span class="t" style="left:973.60px;top:403.80px;font-size:11px;color:#3a3a3a;letter-spacing:0.082px;">Netto</span>
<span class="t" style="left:1003.10px;top:403.80px;font-size:11px;color:#3a3a3a;letter-spacing:-0.081px;">in</span>
<span class="t" style="left:1014.90px;top:403.80px;font-size:11px;color:#3a3a3a;letter-spacing:-0.184px;">Euro</span>
<span class="t" style="left:1041.60px;top:403.80px;font-size:11px;color:#3a3a3a;">|</span>
<span class="t" style="left:1046.70px;top:403.80px;font-size:11px;color:#3a3a3a;font-weight:bold;letter-spacing:-0.153px;">Standort</span>
<span class="t" style="left:895.00px;top:436.80px;font-size:9px;color:#666;letter-spacing:-0.093px;">Zürich - Bahnhofstrasse</span>
<span class="t" style="left:1118.00px;top:435.05px;font-size:12.5px;color:#333;letter-spacing:-0.529px;">1.804 €</span>
<span class="t" style="left:895.00px;top:471.80px;font-size:9px;color:#666;letter-spacing:-0.051px;">Zürich - Rindermarkt</span>
<span class="t" style="left:1070.20px;top:470.05px;font-size:12.5px;color:#333;letter-spacing:-0.487px;">1.055 €</span>
<span class="t" style="left:895.00px;top:506.80px;font-size:9px;color:#666;letter-spacing:-0.086px;">Wien - Prater</span>
<span class="t" style="left:1067.60px;top:505.05px;font-size:12.5px;color:#333;letter-spacing:-0.515px;">1.021 €</span>
<span class="t" style="left:895.00px;top:541.80px;font-size:9px;color:#666;letter-spacing:-0.059px;">München - Marienplatz</span>
<span class="t" style="left:1067.00px;top:540.05px;font-size:12.5px;color:#333;letter-spacing:-0.515px;">1.006 €</span>
<span class="t" style="left:895.00px;top:576.80px;font-size:9px;color:#666;letter-spacing:-0.059px;">München - Maxvorstadt</span>
<span class="t" style="left:1056.10px;top:575.05px;font-size:12.5px;color:#333;letter-spacing:-0.576px;">831 €</span>
<span class="t" style="left:895.00px;top:611.80px;font-size:9px;color:#666;letter-spacing:-0.213px;">München - Schwabing</span>
<span class="t" style="left:1031.60px;top:610.05px;font-size:12.5px;color:#333;letter-spacing:-0.576px;">447 €</span>
<span class="t" style="left:895.00px;top:646.80px;font-size:9px;color:#666;letter-spacing:0.092px;">Wien - Altstadt</span>
<span class="t" style="left:1026.60px;top:646.05px;font-size:12.5px;color:#333;letter-spacing:-0.576px;">369 €</span>
<span class="t" style="left:34.00px;top:7.10px;font-size:7.4px;color:#8f8f8f;letter-spacing:-0.406px;">powered by</span>
<span class="t" style="left:34.00px;top:14.10px;font-size:9.4px;color:#f2f2f2;letter-spacing:-0.126px;">sell</span>
<span class="t" style="left:47.90px;top:16.50px;font-size:6.6px;color:#f2f2f2;">&amp;</span>
<span class="t" style="left:53.20px;top:14.10px;font-size:9.4px;color:#f2f2f2;letter-spacing:0.771px;">pick</span>
<span class="t" style="left:1243.34px;top:13.10px;font-size:7.4px;color:#f2f2f2;font-weight:bold;">?</span>
<span class="t" style="left:235.00px;top:690.00px;font-size:8.6px;color:#5a5a5a;font-weight:bold;letter-spacing:0.013px;">Datendetails</span>
<span class="t" style="left:314.70px;top:690.00px;font-size:8.6px;color:#5a5a5a;font-weight:bold;letter-spacing:-0.099px;">Ansicht: Original</span>
<span class="t" style="left:1061.25px;top:690.00px;font-size:8.6px;color:#5a5a5a;font-weight:bold;letter-spacing:-0.160px;">Ansehen</span>
<span class="t" style="left:1217.50px;top:690.00px;font-size:8.6px;color:#5a5a5a;font-weight:bold;letter-spacing:-0.178px;">Freigeben</span>
<div style="position:absolute;left:888.2px;top:192.6px;width:364.63px;height:196.10px;overflow:hidden;">
<div style="position:absolute;left:0.00px;top:0.00px;width:52.39px;height:34.40px;background:#4b8654;"></div>
<span class="t" style="left:16.16px;top:8.35px;font-size:8.7px;letter-spacing:-0.400px;color:#fff;">26.02</span>
<span class="t" style="left:10.67px;top:20.35px;font-size:8.7px;letter-spacing:-0.389px;color:#fff;">19.627 €</span>
<div style="position:absolute;left:52.09px;top:0.00px;width:52.39px;height:34.40px;background:#b5c36a;"></div>
<span class="t" style="left:68.25px;top:8.35px;font-size:8.7px;letter-spacing:-0.400px;color:#3a3a2a;">27.02</span>
<span class="t" style="left:62.76px;top:20.35px;font-size:8.7px;letter-spacing:-0.389px;color:#3a3a2a;">10.168 €</span>
<div style="position:absolute;left:104.18px;top:0.00px;width:52.39px;height:34.40px;background:#8db565;"></div>
<span class="t" style="left:120.34px;top:8.35px;font-size:8.7px;letter-spacing:-0.400px;color:#3a3a2a;">28.02</span>
<span class="t" style="left:114.85px;top:20.35px;font-size:8.7px;letter-spacing:-0.389px;color:#3a3a2a;">13.189 €</span>
<div style="position:absolute;left:156.27px;top:0.00px;width:52.39px;height:34.40px;background:#91b665;"></div>
<span class="t" style="left:172.43px;top:8.35px;font-size:8.7px;letter-spacing:-0.400px;color:#3a3a2a;">01.03</span>
<span class="t" style="left:166.94px;top:20.35px;font-size:8.7px;letter-spacing:-0.389px;color:#3a3a2a;">12.878 €</span>
<div style="position:absolute;left:208.36px;top:0.00px;width:52.39px;height:34.40px;background:#edd272;"></div>
<span class="t" style="left:224.52px;top:8.35px;font-size:8.7px;letter-spacing:-0.400px;color:#3a3a2a;">02.03</span>
<span class="t" style="left:221.23px;top:20.35px;font-size:8.7px;letter-spacing:-0.381px;color:#3a3a2a;">6.532 €</span>
<div style="position:absolute;left:0.00px;top:34.10px;width:52.39px;height:34.40px;background:#3d7a4a;"></div>
<span class="t" style="left:16.16px;top:42.35px;font-size:8.7px;letter-spacing:-0.400px;color:#fff;">19.02</span>
<span class="t" style="left:10.67px;top:54.35px;font-size:8.7px;letter-spacing:-0.389px;color:#fff;">22.665 €</span>
<div style="position:absolute;left:52.09px;top:34.10px;width:52.39px;height:34.40px;background:#47834f;"></div>
<span class="t" style="left:68.25px;top:42.35px;font-size:8.7px;letter-spacing:-0.400px;color:#fff;">20.02</span>
<span class="t" style="left:62.76px;top:54.35px;font-size:8.7px;letter-spacing:-0.389px;color:#fff;">20.326 €</span>
<div style="position:absolute;left:104.18px;top:34.10px;width:52.39px;height:34.40px;background:#8cb465;"></div>
<span class="t" style="left:120.34px;top:42.35px;font-size:8.7px;letter-spacing:-0.400px;color:#3a3a2a;">21.02</span>
<span class="t" style="left:114.85px;top:54.35px;font-size:8.7px;letter-spacing:-0.389px;color:#3a3a2a;">13.293 €</span>
<div style="position:absolute;left:156.27px;top:34.10px;width:52.39px;height:34.40px;background:#98b966;"></div>
<span class="t" style="left:172.43px;top:42.35px;font-size:8.7px;letter-spacing:-0.400px;color:#3a3a2a;">22.02</span>
<span class="t" style="left:166.94px;top:54.35px;font-size:8.7px;letter-spacing:-0.389px;color:#3a3a2a;">12.354 €</span>
<div style="position:absolute;left:208.36px;top:34.10px;width:52.39px;height:34.40px;background:#a9bf68;"></div>
<span class="t" style="left:224.52px;top:42.35px;font-size:8.7px;letter-spacing:-0.400px;color:#3a3a2a;">23.02</span>
<span class="t" style="left:219.32px;top:54.35px;font-size:8.7px;letter-spacing:-0.382px;color:#3a3a2a;">11.036 €</span>
<div style="position:absolute;left:260.45px;top:34.10px;width:52.39px;height:34.40px;background:#559257;"></div>
<span class="t" style="left:276.61px;top:42.35px;font-size:8.7px;letter-spacing:-0.400px;color:#fff;">24.02</span>
<span class="t" style="left:271.12px;top:54.35px;font-size:8.7px;letter-spacing:-0.389px;color:#fff;">18.037 €</span>
<div style="position:absolute;left:312.54px;top:34.10px;width:52.39px;height:34.40px;background:#47834f;"></div>
<span class="t" style="left:328.70px;top:42.35px;font-size:8.7px;letter-spacing:-0.400px;color:#fff;">25.02</span>
<span class="t" style="left:323.21px;top:54.35px;font-size:8.7px;letter-spacing:-0.389px;color:#fff;">20.401 €</span>
<div style="position:absolute;left:0;top:33.70px;width:364.63px;height:0.8px;background:rgba(255,255,255,0.13);"></div>
<div style="position:absolute;left:0.00px;top:68.20px;width:52.39px;height:34.40px;background:#45814e;"></div>
<span class="t" style="left:16.16px;top:76.35px;font-size:8.7px;letter-spacing:-0.400px;color:#fff;">12.02</span>
<span class="t" style="left:10.67px;top:88.35px;font-size:8.7px;letter-spacing:-0.389px;color:#fff;">20.834 €</span>
<div style="position:absolute;left:52.09px;top:68.20px;width:52.39px;height:34.40px;background:#9ebb67;"></div>
<span class="t" style="left:68.25px;top:76.35px;font-size:8.7px;letter-spacing:-0.400px;color:#3a3a2a;">13.02</span>
<span class="t" style="left:63.05px;top:88.35px;font-size:8.7px;letter-spacing:-0.382px;color:#3a3a2a;">11.874 €</span>
<div style="position:absolute;left:104.18px;top:68.20px;width:52.39px;height:34.40px;background:#508c56;"></div>
<span class="t" style="left:120.34px;top:76.35px;font-size:8.7px;letter-spacing:-0.400px;color:#fff;">14.02</span>
<span class="t" style="left:114.85px;top:88.35px;font-size:8.7px;letter-spacing:-0.389px;color:#fff;">18.766 €</span>
<div style="position:absolute;left:156.27px;top:68.20px;width:52.39px;height:34.40px;background:#70a65f;"></div>
<span class="t" style="left:172.43px;top:76.35px;font-size:8.7px;letter-spacing:-0.400px;color:#3a3a2a;">15.02</span>
<span class="t" style="left:166.94px;top:88.35px;font-size:8.7px;letter-spacing:-0.389px;color:#3a3a2a;">15.146 €</span>
<div style="position:absolute;left:208.36px;top:68.20px;width:52.39px;height:34.40px;background:#4b8754;"></div>
<span class="t" style="left:224.52px;top:76.35px;font-size:8.7px;letter-spacing:-0.400px;color:#fff;">16.02</span>
<span class="t" style="left:219.03px;top:88.35px;font-size:8.7px;letter-spacing:-0.389px;color:#fff;">19.524 €</span>
<div style="position:absolute;left:260.45px;top:68.20px;width:52.39px;height:34.40px;background:#488350;"></div>
<span class="t" style="left:276.61px;top:76.35px;font-size:8.7px;letter-spacing:-0.400px;color:#fff;">17.02</span>
<span class="t" style="left:271.12px;top:88.35px;font-size:8.7px;letter-spacing:-0.389px;color:#fff;">20.287 €</span>
<div style="position:absolute;left:312.54px;top:68.20px;width:52.39px;height:34.40px;background:#437e4d;"></div>
<span class="t" style="left:328.70px;top:76.35px;font-size:8.7px;letter-spacing:-0.400px;color:#fff;">18.02</span>
<span class="t" style="left:323.21px;top:88.35px;font-size:8.7px;letter-spacing:-0.389px;color:#fff;">21.284 €</span>
<div style="position:absolute;left:0;top:67.80px;width:364.63px;height:0.8px;background:rgba(255,255,255,0.13);"></div>
<div style="position:absolute;left:0.00px;top:102.30px;width:52.39px;height:34.40px;background:#4b8654;"></div>
<span class="t" style="left:16.16px;top:110.35px;font-size:8.7px;letter-spacing:-0.400px;color:#fff;">05.02</span>
<span class="t" style="left:10.67px;top:122.35px;font-size:8.7px;letter-spacing:-0.389px;color:#fff;">19.573 €</span>
<div style="position:absolute;left:52.09px;top:102.30px;width:52.39px;height:34.40px;background:#bdc56c;"></div>
<span class="t" style="left:68.25px;top:110.35px;font-size:8.7px;letter-spacing:-0.400px;color:#3a3a2a;">06.02</span>
<span class="t" style="left:64.96px;top:122.35px;font-size:8.7px;letter-spacing:-0.381px;color:#3a3a2a;">9.578 €</span>
<div style="position:absolute;left:104.18px;top:102.30px;width:52.39px;height:34.40px;background:#adc069;"></div>
<span class="t" style="left:120.34px;top:110.35px;font-size:8.7px;letter-spacing:-0.400px;color:#3a3a2a;">07.02</span>
<span class="t" style="left:114.85px;top:122.35px;font-size:8.7px;letter-spacing:-0.389px;color:#3a3a2a;">10.745 €</span>
<div style="position:absolute;left:156.27px;top:102.30px;width:52.39px;height:34.40px;background:#a2bd67;"></div>
<span class="t" style="left:172.43px;top:110.35px;font-size:8.7px;letter-spacing:-0.400px;color:#3a3a2a;">08.02</span>
<span class="t" style="left:167.23px;top:122.35px;font-size:8.7px;letter-spacing:-0.382px;color:#3a3a2a;">11.518 €</span>
<div style="position:absolute;left:208.36px;top:102.30px;width:52.39px;height:34.40px;background:#9dbb67;"></div>
<span class="t" style="left:224.52px;top:110.35px;font-size:8.7px;letter-spacing:-0.400px;color:#3a3a2a;">09.02</span>
<span class="t" style="left:219.32px;top:122.35px;font-size:8.7px;letter-spacing:-0.382px;color:#3a3a2a;">11.908 €</span>
<div style="position:absolute;left:260.45px;top:102.30px;width:52.39px;height:34.40px;background:#437e4d;"></div>
<span class="t" style="left:276.61px;top:110.35px;font-size:8.7px;letter-spacing:-0.400px;color:#fff;">10.02</span>
<span class="t" style="left:271.12px;top:122.35px;font-size:8.7px;letter-spacing:-0.389px;color:#fff;">21.338 €</span>
<div style="position:absolute;left:312.54px;top:102.30px;width:52.39px;height:34.40px;background:#427e4d;"></div>
<span class="t" style="left:328.99px;top:110.35px;font-size:8.7px;letter-spacing:-0.389px;color:#fff;">11.02</span>
<span class="t" style="left:323.21px;top:122.35px;font-size:8.7px;letter-spacing:-0.389px;color:#fff;">21.462 €</span>
<div style="position:absolute;left:0;top:101.90px;width:364.63px;height:0.8px;background:rgba(255,255,255,0.13);"></div>
<div style="position:absolute;left:0.00px;top:136.40px;width:52.39px;height:34.40px;background:#45804e;"></div>
<span class="t" style="left:16.16px;top:145.35px;font-size:8.7px;letter-spacing:-0.400px;color:#fff;">29.01</span>
<span class="t" style="left:10.67px;top:156.35px;font-size:8.7px;letter-spacing:-0.389px;color:#fff;">20.856 €</span>
<div style="position:absolute;left:52.09px;top:136.40px;width:52.39px;height:34.40px;background:#a3bd67;"></div>
<span class="t" style="left:68.25px;top:145.35px;font-size:8.7px;letter-spacing:-0.400px;color:#3a3a2a;">30.01</span>
<span class="t" style="left:63.05px;top:156.35px;font-size:8.7px;letter-spacing:-0.382px;color:#3a3a2a;">11.453 €</span>
<div style="position:absolute;left:104.18px;top:136.40px;width:52.39px;height:34.40px;background:#afc169;"></div>
<span class="t" style="left:120.34px;top:145.35px;font-size:8.7px;letter-spacing:-0.400px;color:#3a3a2a;">31.01</span>
<span class="t" style="left:114.85px;top:156.35px;font-size:8.7px;letter-spacing:-0.389px;color:#3a3a2a;">10.600 €</span>
<div style="position:absolute;left:156.27px;top:136.40px;width:52.39px;height:34.40px;background:#b7c36b;"></div>
<span class="t" style="left:172.43px;top:145.35px;font-size:8.7px;letter-spacing:-0.400px;color:#3a3a2a;">01.02</span>
<span class="t" style="left:166.94px;top:156.35px;font-size:8.7px;letter-spacing:-0.389px;color:#3a3a2a;">10.042 €</span>
<div style="position:absolute;left:208.36px;top:136.40px;width:52.39px;height:34.40px;background:#65a15c;"></div>
<span class="t" style="left:224.52px;top:145.35px;font-size:8.7px;letter-spacing:-0.400px;color:#fff;">02.02</span>
<span class="t" style="left:219.03px;top:156.35px;font-size:8.7px;letter-spacing:-0.389px;color:#fff;">16.240 €</span>
<div style="position:absolute;left:260.45px;top:136.40px;width:52.39px;height:34.40px;background:#488450;"></div>
<span class="t" style="left:276.61px;top:145.35px;font-size:8.7px;letter-spacing:-0.400px;color:#fff;">03.02</span>
<span class="t" style="left:271.12px;top:156.35px;font-size:8.7px;letter-spacing:-0.389px;color:#fff;">20.249 €</span>
<div style="position:absolute;left:312.54px;top:136.40px;width:52.39px;height:34.40px;background:#427e4d;"></div>
<span class="t" style="left:328.70px;top:145.35px;font-size:8.7px;letter-spacing:-0.400px;color:#fff;">04.02</span>
<span class="t" style="left:323.21px;top:156.35px;font-size:8.7px;letter-spacing:-0.389px;color:#fff;">21.460 €</span>
<div style="position:absolute;left:0;top:136.00px;width:364.63px;height:0.8px;background:rgba(255,255,255,0.13);"></div>
<div style="position:absolute;left:0.00px;top:170.50px;width:52.39px;height:34.40px;background:#579458;"></div>
<span class="t" style="left:16.16px;top:179.35px;font-size:8.7px;letter-spacing:-0.400px;color:#fff;">22.01</span>
<span class="t" style="left:10.67px;top:190.35px;font-size:8.7px;letter-spacing:-0.389px;color:#fff;">17.818 €</span>
<div style="position:absolute;left:52.09px;top:170.50px;width:52.39px;height:34.40px;background:#89b364;"></div>
<span class="t" style="left:68.25px;top:179.35px;font-size:8.7px;letter-spacing:-0.400px;color:#3a3a2a;">23.01</span>
<span class="t" style="left:62.76px;top:190.35px;font-size:8.7px;letter-spacing:-0.389px;color:#3a3a2a;">13.433 €</span>
<div style="position:absolute;left:104.18px;top:170.50px;width:52.39px;height:34.40px;background:#b6c36b;"></div>
<span class="t" style="left:120.34px;top:179.35px;font-size:8.7px;letter-spacing:-0.400px;color:#3a3a2a;">24.01</span>
<span class="t" style="left:115.14px;top:190.35px;font-size:8.7px;letter-spacing:-0.382px;color:#3a3a2a;">10.112 €</span>
<div style="position:absolute;left:156.27px;top:170.50px;width:52.39px;height:34.40px;background:#94b866;"></div>
<span class="t" style="left:172.43px;top:179.35px;font-size:8.7px;letter-spacing:-0.400px;color:#3a3a2a;">25.01</span>
<span class="t" style="left:166.94px;top:190.35px;font-size:8.7px;letter-spacing:-0.389px;color:#3a3a2a;">12.623 €</span>
<div style="position:absolute;left:208.36px;top:170.50px;width:52.39px;height:34.40px;background:#629e5b;"></div>
<span class="t" style="left:224.52px;top:179.35px;font-size:8.7px;letter-spacing:-0.400px;color:#fff;">26.01</span>
<span class="t" style="left:219.03px;top:190.35px;font-size:8.7px;letter-spacing:-0.389px;color:#fff;">16.603 €</span>
<div style="position:absolute;left:260.45px;top:170.50px;width:52.39px;height:34.40px;background:#3a764a;"></div>
<span class="t" style="left:276.61px;top:179.35px;font-size:8.7px;letter-spacing:-0.400px;color:#fff;">27.01</span>
<span class="t" style="left:271.12px;top:190.35px;font-size:8.7px;letter-spacing:-0.389px;color:#fff;">23.091 €</span>
<div style="position:absolute;left:312.54px;top:170.50px;width:52.39px;height:34.40px;background:#37734a;"></div>
<span class="t" style="left:328.70px;top:179.35px;font-size:8.7px;letter-spacing:-0.400px;color:#fff;">28.01</span>
<span class="t" style="left:323.21px;top:190.35px;font-size:8.7px;letter-spacing:-0.389px;color:#fff;">23.374 €</span>
<div style="position:absolute;left:0;top:170.10px;width:364.63px;height:0.8px;background:rgba(255,255,255,0.13);"></div>
</div>
<div style="position:absolute;left:169.2px;top:374.2px;width:177.1px;height:91.8px;background:#fff;border:1px solid #d2d2d2;box-shadow:1px 1px 2px rgba(0,0,0,0.18);"></div>
<span class="t" style="left:178.50px;top:386.05px;font-size:9.5px;color:#8e8e8e;letter-spacing:-0.099px;">Schicht:</span>
<span class="t" style="left:273.90px;top:386.05px;font-size:9.5px;color:#333;font-weight:bold;letter-spacing:-0.165px;">Mittagsschicht</span>
<span class="t" style="left:178.50px;top:398.05px;font-size:9.5px;color:#8e8e8e;letter-spacing:0.004px;">Umsatz Netto in Euro:</span>
<span class="t" style="left:273.90px;top:398.05px;font-size:9.5px;color:#333;font-weight:bold;letter-spacing:-0.055px;">252 €</span>
<span class="t" style="left:178.50px;top:423.05px;font-size:9.5px;color:#8e8e8e;letter-spacing:-0.120px;">Nach Auswahl eines Tages:</span>
<span class="t" style="left:178.50px;top:436.05px;font-size:9.5px;color:#8e8e8e;letter-spacing:-0.056px;">4-Wochen Schnitt:</span>
<span class="t" style="left:259.70px;top:436.05px;font-size:9.5px;color:#333;font-weight:bold;letter-spacing:-0.055px;">259 €</span>
<span class="t" style="left:178.50px;top:448.05px;font-size:9.5px;color:#8e8e8e;letter-spacing:-0.036px;">Abweichung:</span>
<span class="t" style="left:261.70px;top:448.05px;font-size:9.5px;color:#333;font-weight:bold;letter-spacing:-0.298px;">-3%</span>
</div>
</body></html>
